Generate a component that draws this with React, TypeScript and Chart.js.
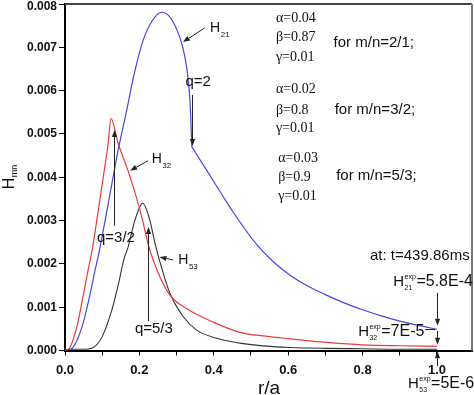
import React, { useEffect, useRef } from 'react';
import { Chart, registerables } from 'chart.js';
Chart.register(...registerables);

// r/a positions and H values (in units of 1e-3)
const R21 = [0, 0.019, 0.046, 0.064, 0.081, 0.09, 0.103, 0.1165, 0.143, 0.166, 0.184, 0.21, 0.235, 0.26, 0.28, 0.3, 0.314, 0.327, 0.336, 0.341, 0.381, 0.4255, 0.45, 0.479, 0.515, 0.56, 0.605, 0.65, 0.7, 0.75, 0.8, 0.85, 0.9, 0.95, 1.0];
const H21 = [0, 0.05, 0.55, 1.17, 1.86, 2.2, 2.78, 3.4, 4.63, 5.55, 6.31, 7.16, 7.62, 7.81, 7.72, 7.42, 7.08, 6.54, 5.77, 4.7, 4.16, 3.55, 3.22, 2.86, 2.45, 2.05, 1.74, 1.5, 1.29, 1.1, 0.94, 0.8, 0.68, 0.58, 0.49];
const R21_KINK = 0.341; // q=2 surface, where the H21 profile bends

const R32 = [0, 0.01, 0.032, 0.05, 0.064, 0.073, 0.0896, 0.103, 0.116, 0.1237, 0.143, 0.175, 0.2016, 0.228, 0.255, 0.282, 0.33, 0.4, 0.47, 0.54, 0.605, 0.712, 0.8, 0.9, 1.0];
const H32 = [0, 0.03, 0.55, 1.32, 1.94, 2.32, 3.24, 4.01, 4.78, 5.36, 4.78, 4.01, 3.24, 2.32, 1.7, 1.28, 0.95, 0.65, 0.42, 0.33, 0.27, 0.18, 0.13, 0.11, 0.1];

const R53 = [0, 0.01, 0.05, 0.073, 0.085, 0.1, 0.126, 0.144, 0.158, 0.17, 0.188, 0.209, 0.228, 0.24, 0.255, 0.282, 0.318, 0.354, 0.4, 0.47, 0.54, 0.605, 0.7, 0.8, 0.9, 1.0];
const H53 = [0, 0.03, 0.03, 0.06, 0.13, 0.32, 0.94, 1.55, 2.09, 2.4, 3.01, 3.4, 3.01, 2.55, 2.05, 1.32, 0.78, 0.47, 0.3, 0.17, 0.1, 0.07, 0.05, 0.04, 0.03, 0.03];

const X_TICK_LABELS = ['0.0', '', '0.2', '', '0.4', '', '0.6', '', '0.8', '', '1.0'];
const Y_TICK_LABELS = ['0.000', '0.001', '0.002', '0.003', '0.004', '0.005', '0.006', '0.007', '0.008'];

const SANS = "'Liberation Sans', Arial, Helvetica, sans-serif";
const SERIF = "'Liberation Serif', 'Times New Roman', serif";

// annotations in data units (r, H*1e3)
const ARROWS = [
  [0.341, 5.9, 0.341, 4.72],
  [0.376, 7.45, 0.317, 7.12],
  [0.223, 4.38, 0.175, 4.15],
  [0.291, 2.09, 0.254, 2.16],
  [0.132, 2.88, 0.132, 5.09],
  [0.222, 0.68, 0.222, 2.85],
  [1.0, 1.33, 1.0, 0.57],
  [1.0, 0.45, 1.0, 0.13],
  [1.0, -0.36, 1.0, -0.02],
];
const LINES = [[0.968, 0.497, 0.995, 0.497]];

const GREEK = [
  ['α=0.04', 0.567, 7.67], ['β=0.87', 0.567, 7.24], ['γ=0.01', 0.567, 6.78],
  ['α=0.02', 0.567, 6.02], ['β=0.8', 0.567, 5.55], ['γ=0.01', 0.567, 5.14],
  ['α=0.03', 0.573, 4.44], ['β=0.9', 0.573, 4.0], ['γ=0.01', 0.573, 3.57],
];
const MODES = [
  ['for m/n=2/1;', 0.722, 7.1], ['for m/n=3/2;', 0.725, 5.55], ['for m/n=5/3;', 0.729, 4.03],
];
const QLABELS = [['q=2', 0.358, 6.21], ['q=3/2', 0.137, 2.61], ['q=5/3', 0.239, 0.5]];
const HLABELS = [
  { r: 0.39, v: 7.44, sub: '21', sup: '', rest: '', big: 14, small: 8 },
  { r: 0.233, v: 4.42, sub: '32', sup: '', rest: '', big: 14, small: 8 },
  { r: 0.3046, v: 2.09, sub: '53', sup: '', rest: '', big: 14, small: 8 },
  { r: 0.8825, v: 1.58, sub: '21', sup: 'exp', rest: '=5.8E-4', big: 15, small: 7 },
  { r: 0.788, v: 0.427, sub: '32', sup: 'exp', rest: '=7E-5', big: 15, small: 7 },
  { r: 0.922, v: -0.773, sub: '53', sup: 'exp', rest: '=5E-6', big: 15, small: 7 },
];

const pts = (r: number[], v: number[]) => r.map((x, i) => ({ x, y: v[i] / 1000 }));

const annotPlugin = {
  id: 'annot',
  afterDraw(chart: any) {
    const { ctx, chartArea: a, scales } = chart;
    const X = (r: number) => scales.x.getPixelForValue(r);
    const Y = (v: number) => scales.y.getPixelForValue(v / 1000);
    ctx.save();
    ctx.lineWidth = 2;
    ctx.strokeStyle = '#444';
    ctx.beginPath(); ctx.moveTo(a.left, a.top); ctx.lineTo(a.right, a.top); ctx.stroke();
    ctx.strokeStyle = '#7a7a7a';
    ctx.beginPath(); ctx.moveTo(a.right, a.top); ctx.lineTo(a.right, a.bottom); ctx.stroke();

    // top y tick label (kept inside the canvas)
    ctx.fillStyle = '#111';
    ctx.font = `bold 12px ${SANS}`;
    ctx.textAlign = 'right';
    ctx.textBaseline = 'middle';
    ctx.fillText(Y_TICK_LABELS[8], a.left - 8, scales.y.getPixelForValue(0.008) + 3);

    ctx.strokeStyle = '#222';
    ctx.fillStyle = '#222';
    ctx.lineWidth = 1;
    const snap = (p: number) => Math.round(p) + 0.5;
    ARROWS.forEach(([r1, v1, r2, v2]) => {
      let x1 = X(r1), y1 = Y(v1), x2 = X(r2), y2 = Y(v2);
      if (Math.abs(x1 - x2) < 0.5) { x1 = snap(x1); x2 = x1; }
      const ang = Math.atan2(y2 - y1, x2 - x1);
      const L = 7, W = 2.6;
      const bx = x2 - L * Math.cos(ang), by = y2 - L * Math.sin(ang);
      ctx.beginPath(); ctx.moveTo(x1, y1); ctx.lineTo(bx, by); ctx.stroke();
      ctx.beginPath();
      ctx.moveTo(x2, y2);
      ctx.lineTo(bx + W * Math.sin(ang), by - W * Math.cos(ang));
      ctx.lineTo(bx - W * Math.sin(ang), by + W * Math.cos(ang));
      ctx.closePath(); ctx.fill();
    });
    LINES.forEach(([r1, v1, r2, v2]) => {
      ctx.beginPath(); ctx.moveTo(X(r1), snap(Y(v1))); ctx.lineTo(X(r2), snap(Y(v2))); ctx.stroke();
    });

    ctx.fillStyle = '#111';
    ctx.textBaseline = 'middle';
    ctx.textAlign = 'left';
    ctx.font = `14px ${SERIF}`;
    GREEK.forEach(([t, r, v]: any) => ctx.fillText(t, X(r), Y(v)));
    ctx.font = `15px ${SANS}`;
    MODES.forEach(([t, r, v]: any) => ctx.fillText(t, X(r), Y(v)));
    ctx.fillText('at: t=439.86ms', X(0.8199), Y(2.19));
    ctx.textAlign = 'center';
    QLABELS.forEach(([t, r, v]: any) => ctx.fillText(t, X(r), Y(v)));

    ctx.textAlign = 'left';
    HLABELS.forEach((h) => {
      const x = X(h.r), y = Y(h.v);
      ctx.font = `${h.big}px ${SANS}`;
      ctx.fillText('H', x, y);
      const w = ctx.measureText('H').width + 0.5;
      ctx.font = `${h.small}px ${SANS}`;
      let ws = ctx.measureText(h.sub).width;
      ctx.fillText(h.sub, x + w, y + (h.sup ? 6 : 7));
      if (h.sup) {
        ctx.fillText(h.sup, x + w, y - 5);
        ws = Math.max(ws, ctx.measureText(h.sup).width);
      }
      if (h.rest) {
        ctx.font = `16px ${SANS}`;
        ctx.fillText(h.rest, x + w + ws + 0.5, y);
      }
    });

    // axis titles
    ctx.font = `19px ${SANS}`;
    ctx.textAlign = 'center';
    ctx.textBaseline = 'alphabetic';
    ctx.fillText('r/a', X(0.5484), Y(-1.0));

    ctx.translate(14, (a.top + a.bottom) / 2 + 12);
    ctx.rotate(-Math.PI / 2);
    ctx.textAlign = 'left';
    ctx.font = `16px ${SANS}`;
    ctx.fillText('H', 0, 0);
    const hw = ctx.measureText('H').width;
    ctx.font = `9px ${SANS}`;
    ctx.fillText('mn', hw + 0.5, 3);
    ctx.restore();
  },
};

export default function App() {
  const ref = useRef<HTMLCanvasElement | null>(null);
  useEffect(() => {
    if (!ref.current) return;
    const ds = (label: string, data: { x: number; y: number }[], color: string, w: number) => ({
      label,
      data,
      borderColor: color,
      backgroundColor: color,
      borderWidth: w,
      pointRadius: 0,
      showLine: true,
      fill: false,
      cubicInterpolationMode: 'monotone' as const,
    });
    const p21 = pts(R21, H21);
    const blue = '#4646e2';
    const chart = new Chart(ref.current, {
      type: 'scatter',
      data: {
        datasets: [
          ds('H21', p21.filter((p) => p.x <= R21_KINK), blue, 1.2),
          ds('H21 (outer)', p21.filter((p) => p.x >= R21_KINK), blue, 1.2),
          ds('H32', pts(R32, H32), '#ec3a3e', 1.2),
          ds('H53', pts(R53, H53), '#333333', 1.1),
        ],
      },
      options: {
        animation: false,
        responsive: false,
        devicePixelRatio: 1,
        layout: { padding: { top: 4, right: 2, left: 0, bottom: 0 } },
        plugins: { legend: { display: false }, tooltip: { enabled: false } },
        scales: {
          x: {
            type: 'linear',
            min: 0,
            max: 1.0941,
            afterFit: (s: any) => { s.height = 44.5; s.paddingLeft = 0; s.paddingRight = 0; },
            border: { display: true, color: '#000', width: 2 },
            grid: { display: true, drawOnChartArea: false, drawTicks: true, tickLength: 5, tickColor: '#000', tickWidth: 1 },
            ticks: {
              stepSize: 0.1,
              includeBounds: false,
              autoSkip: false,
              maxRotation: 0,
              padding: 7,
              color: '#111',
              font: { family: SANS, size: 13, weight: 'bold' },
              callback: (v: any) => X_TICK_LABELS[Math.round(Number(v) * 10)] ?? '',
            },
          },
          y: {
            type: 'linear',
            min: 0,
            max: 0.008,
            afterFit: (s: any) => { s.width = 65; s.paddingTop = 0; s.paddingBottom = 0; },
            border: { display: true, color: '#000', width: 2 },
            grid: { display: true, drawOnChartArea: false, drawTicks: true, tickLength: 6, tickColor: '#000', tickWidth: 1 },
            ticks: {
              stepSize: 0.001,
              includeBounds: false,
              padding: 2,
              color: '#111',
              font: { family: SANS, size: 12, weight: 'bold' },
              callback: (v: any) => {
                const i = Math.round(Number(v) * 1000);
                return i >= 8 ? '' : Y_TICK_LABELS[i] ?? '';
              },
            },
          },
        },
      },
      plugins: [annotPlugin],
    } as any);
    return () => chart.destroy();
  }, []);
  return (
    <div style={{ position: 'absolute', left: 0, top: 0, width: 474, height: 395, background: '#fff' }}>
      <canvas ref={ref} width={474} height={395} style={{ display: 'block' }} />
    </div>
  );
}
